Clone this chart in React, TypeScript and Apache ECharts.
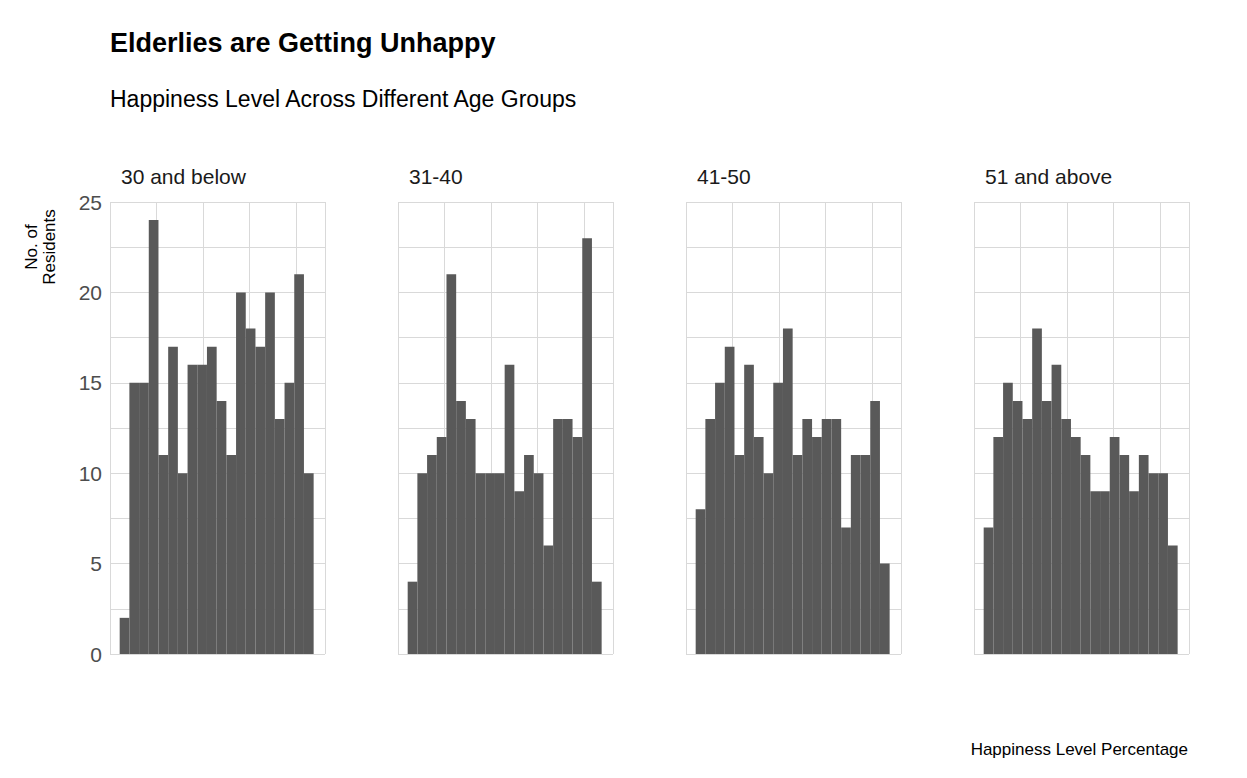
import React, { useEffect, useRef } from "react";
import * as echarts from "echarts";

const panels = ["30 and below", "31-40", "41-50", "51 and above"];
const countsU30 = [2, 15, 15, 24, 11, 17, 10, 16, 16, 17, 14, 11, 20, 18, 17, 20, 13, 15, 21, 10];
const counts31 = [4, 10, 11, 12, 21, 14, 13, 10, 10, 10, 16, 9, 11, 10, 6, 13, 13, 12, 23, 4];
const counts41 = [8, 13, 15, 17, 11, 16, 12, 10, 15, 18, 11, 13, 12, 13, 13, 7, 11, 11, 14, 5];
const counts51 = [7, 12, 15, 14, 13, 18, 14, 16, 13, 12, 11, 9, 9, 12, 11, 9, 11, 10, 10, 6];
const allCounts = [countsU30, counts31, counts41, counts51];
const binStart = -2.6;
const binWidth = 5.21;
const xTicks = [0, 50, 100];
const yTicks = [0, 5, 10, 15, 20, 25];

export default function App() {
  const ref = useRef<HTMLDivElement>(null);
  useEffect(() => {
    document.body.style.margin = "0";
    const chart = echarts.init(ref.current!, null, { renderer: "svg" });
    const font = "Liberation Sans, Arial, sans-serif";
    const grids: any[] = [], xAxes: any[] = [], yAxes: any[] = [], series: any[] = [];
    const graphic: any[] = [
      { type: "text", left: 110, top: 29, style: { text: "Elderlies are Getting Unhappy", font: `bold 27px ${font}`, fill: "#000" } },
      { type: "text", left: 110, top: 87, style: { text: "Happiness Level Across Different Age Groups", font: `23px ${font}`, fill: "#000" } },
      { type: "text", x: 40, y: 247, rotation: Math.PI / 2, style: { text: "No. of\nResidents", font: `17px ${font}`, fill: "#000", align: "center", verticalAlign: "middle", lineHeight: 18 } },
      { type: "text", right: 59, top: 741, style: { text: "Happiness Level Percentage", font: `17px ${font}`, fill: "#000" } },
    ];
    panels.forEach((p, i) => {
      const left = 110 + i * 288;
      grids.push({ left, top: 202, width: 215, height: 452 });
      graphic.push({ type: "text", left: left + 11, top: 166, style: { text: p, font: `21px ${font}`, fill: "#1a1a1a" } });
      xAxes.push({
        type: "value", gridIndex: i, min: -7.8, max: 107.7, interval: 25,
        axisLine: { show: false }, axisTick: { show: false },
        splitLine: { show: true, lineStyle: { color: "#d9d9d9", width: 1 } },
        axisLabel: {
          show: true, color: "#4d4d4d", fontSize: 21, fontFamily: font, margin: 14,
          showMinLabel: true, showMaxLabel: true,
          formatter: (v: number) => (xTicks.includes(Math.round(v)) && Math.abs(v - Math.round(v)) < 0.01 ? String(Math.round(v)) : ""),
        },
        customValues: undefined,
      });
      yAxes.push({
        type: "value", gridIndex: i, min: 0, max: 25, interval: 2.5,
        axisLine: { show: false }, axisTick: { show: false },
        splitLine: { show: true, lineStyle: { color: "#d9d9d9", width: 1 } },
        axisLabel: {
          show: i === 0, color: "#4d4d4d", fontSize: 21, fontFamily: font, margin: 8,
          formatter: (v: number) => (yTicks.includes(v) ? String(v) : ""),
        },
      });
      const data = allCounts[i].map((c, k) => [binStart + k * binWidth, binStart + (k + 1) * binWidth, c]);
      series.push({
        type: "custom", xAxisIndex: i, yAxisIndex: i, data,
        renderItem: (params: any, api: any) => {
          const a = api.coord([api.value(0), 0]);
          const b = api.coord([api.value(1), api.value(2)]);
          return { type: "rect", shape: { x: a[0], y: b[1], width: b[0] - a[0], height: a[1] - b[1] }, style: { fill: "#595959" } };
        },
      });
    });
    chart.setOption({ animation: false, backgroundColor: "#fff", grid: grids, xAxis: xAxes, yAxis: yAxes, series, graphic });
    return () => chart.dispose();
  }, []);
  return <div ref={ref} style={{ width: 1247, height: 778 }} />;
}
